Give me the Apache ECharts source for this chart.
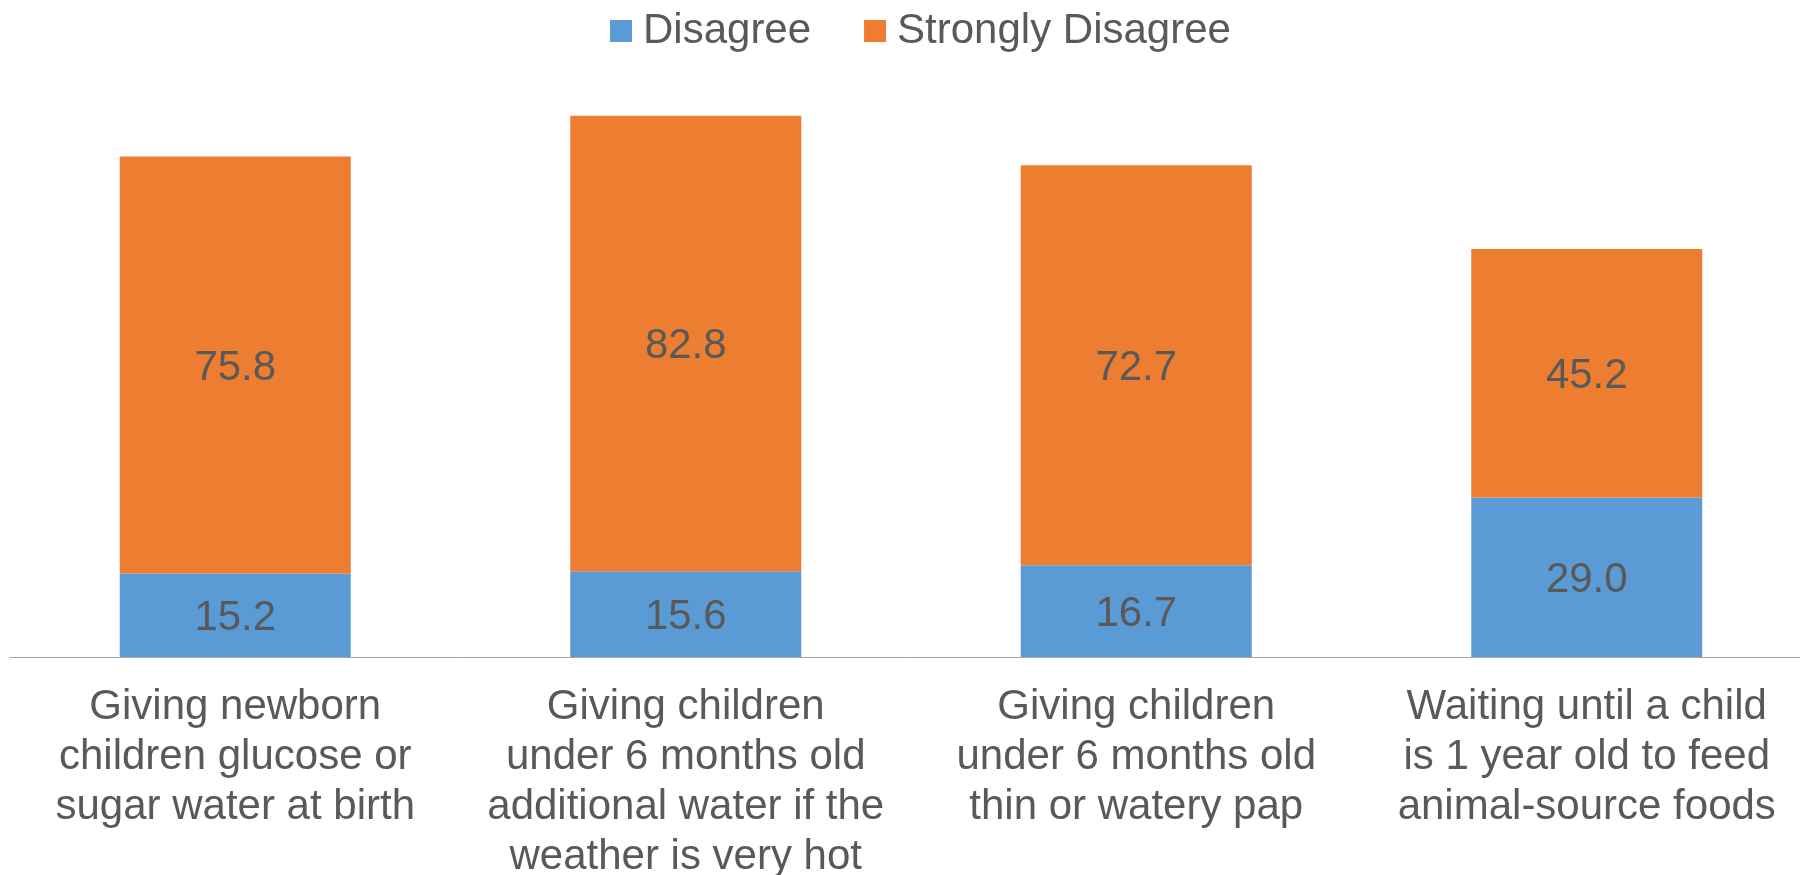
<!DOCTYPE html>
<html>
<head>
<meta charset="utf-8">
<script src="https://cdn.jsdelivr.net/npm/echarts@6/dist/echarts.min.js"></script>
<style>
  html, body { margin: 0; padding: 0; background: #ffffff; }
  #chart { width: 1800px; height: 875px; }
</style>
</head>
<body>
<div id="chart"></div>
<script>
// Survey statements (x-axis tick labels, pre-wrapped)
const categories = [
  'Giving newborn\nchildren glucose or\nsugar water at birth',
  'Giving children\nunder 6 months old\nadditional water if the\nweather is very hot',
  'Giving children\nunder 6 months old\nthin or watery pap',
  'Waiting until a child\nis 1 year old to feed\nanimal-source foods'
];

// Percent of respondents per answer
const disagree = [15.2, 15.6, 16.7, 29.0];
const stronglyDisagree = [75.8, 82.8, 72.7, 45.2];

const seriesNames = ['Disagree', 'Strongly Disagree'];

const FONT = '"Liberation Sans", Arial, sans-serif';
const TEXT_COLOR = '#595959';

const chart = echarts.init(document.getElementById('chart'), null, { renderer: 'canvas' });

// Value printed in the middle of each segment
const valueLabel = {
  show: true,
  position: 'inside',
  offset: [0, 3],
  fontFamily: FONT,
  fontSize: 42,
  color: TEXT_COLOR,
  formatter: p => p.value.toFixed(1)
};

chart.setOption({
  animation: false,
  backgroundColor: '#ffffff',
  legend: {
    data: seriesNames,
    left: 610,
    top: 10,
    padding: 0,
    itemWidth: 22,
    itemHeight: 22,
    itemGap: 53,
    icon: 'rect',
    textStyle: {
      fontFamily: FONT,
      fontSize: 42,
      color: TEXT_COLOR,
      padding: [0, 0, 0, 6]
    }
  },
  grid: {
    left: 10,
    width: 1802,
    top: 107,
    height: 550,
    containLabel: false,
    outerBoundsMode: 'none'
  },
  xAxis: {
    type: 'category',
    data: categories,
    axisLine: { show: true, lineStyle: { color: '#A6A6A6', width: 1 } },
    axisTick: { show: false },
    axisLabel: {
      interval: 0,
      margin: 25,
      fontFamily: FONT,
      fontSize: 42,
      lineHeight: 50,
      color: TEXT_COLOR,
      align: 'center'
    }
  },
  yAxis: {
    type: 'value',
    min: 0,
    max: 100,
    show: false,
    splitLine: { show: false }
  },
  series: [
    {
      name: seriesNames[0],
      type: 'bar',
      stack: 'total',
      data: disagree,
      barWidth: 231,
      itemStyle: { color: '#5B9BD5' },
      label: valueLabel
    },
    {
      name: seriesNames[1],
      type: 'bar',
      stack: 'total',
      data: stronglyDisagree,
      barWidth: 231,
      itemStyle: { color: '#ED7D31' },
      label: valueLabel
    }
  ]
});
</script>
</body>
</html>
